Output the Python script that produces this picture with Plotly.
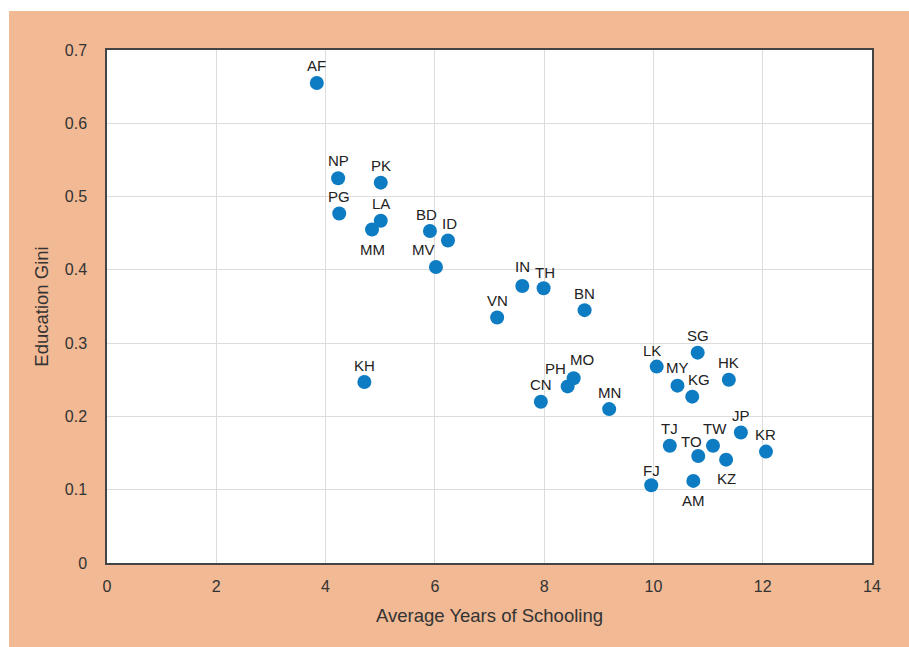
import plotly.graph_objects as go

codes = ["AF", "NP", "PK", "PG", "LA", "MM", "BD", "ID", "MV", "KH",
         "VN", "IN", "TH", "BN", "CN", "PH", "MO", "MN", "LK", "SG",
         "MY", "KG", "HK", "JP", "TJ", "TW", "TO", "KZ", "KR", "FJ", "AM"]
years = [3.84, 4.23, 5.01, 4.25, 5.01, 4.85, 5.91, 6.24, 6.02, 4.71,
         7.14, 7.60, 7.99, 8.74, 7.94, 8.43, 8.54, 9.19, 10.06, 10.81,
         10.44, 10.71, 11.38, 11.60, 10.30, 11.09, 10.82, 11.33, 12.06, 9.96, 10.73]
gini = [0.655, 0.525, 0.519, 0.477, 0.467, 0.455, 0.453, 0.440, 0.404, 0.247,
        0.335, 0.378, 0.375, 0.345, 0.220, 0.241, 0.252, 0.210, 0.268, 0.287,
        0.242, 0.227, 0.250, 0.178, 0.160, 0.160, 0.146, 0.141, 0.152, 0.106, 0.112]

# label offsets in pixels (dx right, dy up) relative to each point
label_dx = {"BD": -3, "ID": 2, "MV": -12, "TH": 1, "MO": 8, "PH": -12, "LK": -5,
            "KG": 7, "TW": 2, "TO": -7}
label_dy = {"MM": -20, "KZ": -19, "AM": -20, "IN": 19, "MO": 19, "PH": 18,
            "TH": 16, "LK": 16, "TO": 15, "FJ": 15, "KH": 16, "MY": 18, "NP": 18}

peach = "#F1B994"
fig = go.Figure()
fig.add_trace(go.Scatter(
    x=years, y=gini, mode="markers",
    marker=dict(size=14, color="#0E7CC2"),
    hoverinfo="text", text=codes, showlegend=False,
))

for c, xv, yv in zip(codes, years, gini):
    fig.add_annotation(
        x=xv, y=yv, text=c, showarrow=False,
        xshift=label_dx.get(c, 0), yshift=label_dy.get(c, 17),
        font=dict(family="Liberation Sans, Arial, sans-serif", size=15, color="#222222"),
    )

# figure is a little larger than the window; the excess is clipped (overflow hidden)
W, H = 925, 663
ml, mr, mt, mb = 107, 53, 50, 100
pw, ph = W - ml - mr, H - mt - mb

# white strips outside the peach panel (top and left)
fig.add_shape(type="rect", xref="paper", yref="paper",
              x0=-ml / pw - 0.01, x1=(W - ml) / pw + 0.01,
              y0=1 + (mt - 11) / ph, y1=1 + mt / ph + 0.01,
              fillcolor="white", line=dict(width=0), layer="below")
fig.add_shape(type="rect", xref="paper", yref="paper",
              x0=-ml / pw - 0.01, x1=-(ml - 9) / pw,
              y0=-mb / ph - 0.01, y1=1 + mt / ph + 0.01,
              fillcolor="white", line=dict(width=0), layer="below")

tick_font = dict(family="Liberation Sans, Arial, sans-serif", size=16, color="#333333")
title_font = dict(family="Liberation Sans, Arial, sans-serif", size=18.5, color="#333333")
fig.update_layout(
    width=W, height=H,
    margin=dict(l=ml, r=mr, t=mt, b=mb),
    paper_bgcolor=peach, plot_bgcolor="white",
    font=tick_font,
    xaxis=dict(range=[0, 14], dtick=2, tick0=0, showgrid=True, gridcolor="#DCDCDC",
               gridwidth=1, zeroline=False, showline=True, linecolor="#444444",
               linewidth=1.5, mirror=True, ticks="", ticklabelstandoff=8,
               tickfont=tick_font,
               title=dict(text="Average Years of Schooling", font=title_font, standoff=15)),
    yaxis=dict(range=[0, 0.7], dtick=0.1, tick0=0, showgrid=True, gridcolor="#DCDCDC",
               gridwidth=1, zeroline=False, showline=True, linecolor="#444444",
               linewidth=1.5, mirror=True, ticks="", ticklabelstandoff=15,
               tickfont=tick_font, tickformat="~g",
               title=dict(text="Education Gini", font=title_font, standoff=11)),
)

fig.write_html(
    "out.html",
    config={"displayModeBar": False},
    post_script="document.documentElement.style.margin='0';"
                "document.documentElement.style.overflow='hidden';"
                "document.body.style.margin='0';"
                "document.body.style.overflow='hidden';",
)
